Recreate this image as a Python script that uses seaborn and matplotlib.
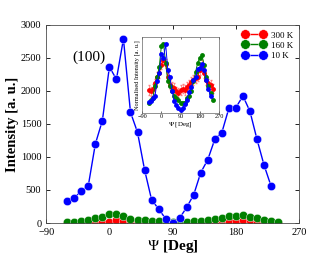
import numpy as np
import pandas as pd
import seaborn as sns
import matplotlib.pyplot as plt

# angles
psi_10k = list(range(-60, 240, 10))
psi_all = list(range(-60, 250, 10))

int_10k = [338, 379, 485, 566, 1197, 1550, 2364, 2177, 2788, 1677, 1374, 808,
           354, 212, 66, 5, 76, 237, 429, 763, 960, 1268, 1369, 1737, 1747,
           1924, 1692, 1268, 879, 561]
int_160k = [15, 20, 25, 50, 70, 90, 135, 140, 100, 60, 50, 40, 30, 25, 20, 15,
            15, 15, 25, 30, 40, 60, 80, 100, 110, 115, 95, 70, 50, 35, 20]
int_300k = [5, 5, 5, 8, 10, 15, 20, 40, 30, 15, 12, 10, 8, 6, 5, 5, 5, 6, 8,
            10, 15, 30, 40, 30, 20, 40, 45, 20, 12, 8, 5]

# inset: normalised red curve
norm_300k = [0.30, 0.28, 0.32, 0.40, 0.50, 0.55, 0.68, 0.75, 0.70, 0.50, 0.38,
             0.35, 0.33, 0.28, 0.26, 0.30, 0.32, 0.30, 0.35, 0.38, 0.42, 0.45,
             0.48, 0.50, 0.60, 0.68, 0.55, 0.45, 0.40, 0.38, 0.32]
err_300k = [0.07] * len(norm_300k)

plt.rcParams["font.family"] = ["Liberation Serif", "DejaVu Serif"]
plt.rcParams["mathtext.fontset"] = "stix"

fig = plt.figure(figsize=(3.32, 2.54), dpi=100)
ax = fig.add_axes([0.139, 0.122, 0.762, 0.780])

kw = dict(marker="o", markersize=6, linewidth=1, markeredgewidth=0.3, ax=ax, legend=False)
sns.lineplot(x=psi_all, y=int_300k, color="red", **kw)
sns.lineplot(x=psi_all, y=int_160k, color="green", **kw)
sns.lineplot(x=psi_10k, y=int_10k, color="blue", **kw)

ax.set_xlim(-90, 270)
ax.set_ylim(0, 3000)
ax.set_xticks([-90, 0, 90, 180, 270])
ax.set_yticks([0, 500, 1000, 1500, 2000, 2500, 3000])
ax.tick_params(direction="in", labelsize=7.5, length=3, top=True, right=True, width=0.6)
for s in ax.spines.values():
    s.set_linewidth(0.6)
    s.set_color("0.3")
ax.set_xlabel(r"$\Psi$ [Deg]", fontsize=11, fontweight="bold", labelpad=1)
ax.set_ylabel("Intensity [a. u.]", fontsize=10.5, fontweight="bold", labelpad=1)
ax.text(-52, 2450, "(100)", fontsize=11)
ax.legend(ax.lines[:3], ["300 K", "160 K", "10 K"], loc="upper right",
          numpoints=2, frameon=False, fontsize=6.5, handlelength=2.6,
          markerscale=1.15, labelspacing=0.2, borderaxespad=0.3,
          handletextpad=0.5)

# inset
ins = fig.add_axes([0.428, 0.555, 0.232, 0.299])
b = np.array(int_10k) / max(int_10k)
g = np.array(int_160k) / max(int_160k)
ins.errorbar(psi_all, norm_300k, yerr=err_300k, fmt="none", ecolor="#ff8080",
             elinewidth=0.6, capsize=0.8)
ikw = dict(marker="o", markersize=3.5, linewidth=0.7, markeredgewidth=0, ax=ins, legend=False)
sns.lineplot(x=psi_all, y=norm_300k, color="red", **ikw)
sns.lineplot(x=psi_all, y=g, color="green", **ikw)
sns.lineplot(x=psi_10k, y=b, color="blue", **ikw)
ins.set_xlim(-90, 270)
ins.set_ylim(-0.05, 1.1)
ins.set_xticks([-90, 0, 90, 180, 270])
ins.set_yticks([])
ins.tick_params(direction="in", labelsize=4.5, length=1.5, pad=1, top=True, width=0.4)
for s in ins.spines.values():
    s.set_linewidth(0.5)
    s.set_color("0.4")
ins.set_xlabel(r"$\Psi$ [Deg]", fontsize=5, labelpad=0.5)
ins.set_ylabel("Normalised Intensity [a. u.]", fontsize=4.5, labelpad=1.5)

fig.savefig("out.png", dpi=100)
